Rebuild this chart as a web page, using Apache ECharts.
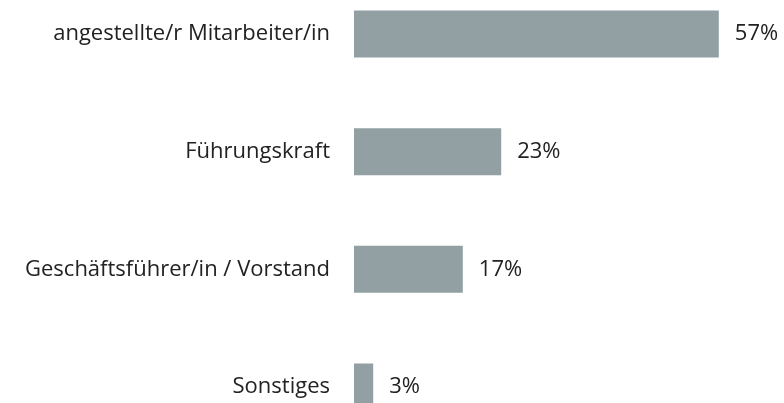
<!DOCTYPE html>
<html>
<head>
<meta charset="utf-8">
<script src="https://cdn.jsdelivr.net/npm/echarts@6/dist/echarts.min.js"></script>
<style>
  html, body { margin: 0; padding: 0; background: #fff; }
  #chart { width: 784px; height: 403px; }
</style>
</head>
<body>
<div id="chart"></div>
<script>
const categories = ['angestellte/r Mitarbeiter/in', 'Führungskraft', 'Geschäftsführer/in / Vorstand', 'Sonstiges'];
const values = [57, 23, 17, 3];

const chart = echarts.init(document.getElementById('chart'));

const option = {
  backgroundColor: '#ffffff',
  animation: false,
  grid: {
    left: 354,
    width: 384,
    top: 34,
    height: 353
  },
  xAxis: {
    type: 'value',
    min: 0,
    max: 60,
    show: false
  },
  yAxis: {
    type: 'category',
    data: categories,
    inverse: true,
    boundaryGap: false,
    axisLine: { show: false },
    axisTick: { show: false },
    splitLine: { show: false },
    axisLabel: {
      margin: 24,
      color: '#222222',
      fontFamily: 'Open Sans',
      fontSize: 22
    }
  },
  series: [{
    type: 'bar',
    data: values,
    barWidth: 47,
    clip: false,
    itemStyle: { color: '#929fa3' },
    label: {
      show: true,
      position: 'right',
      distance: 16,
      formatter: '{c}%',
      color: '#222222',
      fontFamily: 'Open Sans',
      fontSize: 22
    }
  }]
};

chart.setOption(option);
</script>
</body>
</html>
